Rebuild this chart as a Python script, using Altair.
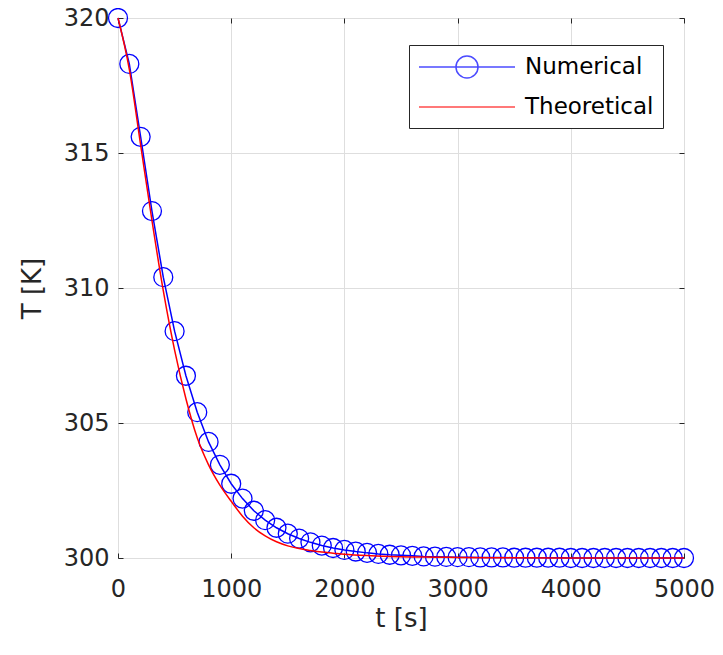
import altair as alt
import pandas as pd

# ---- data ----
num_t = list(range(0, 5001, 100))
num_T = [320.0, 318.3, 315.6, 312.85, 310.4, 308.4, 306.75, 305.4, 304.3, 303.45,
         302.75, 302.2, 301.75, 301.4, 301.12, 300.9, 300.72, 300.58, 300.46, 300.37,
         300.3, 300.24, 300.19, 300.15, 300.12, 300.1, 300.08, 300.06, 300.05, 300.04,
         300.03, 300.03, 300.02, 300.02, 300.02, 300.01, 300.01, 300.01, 300.01, 300.01,
         300.0, 300.0, 300.0, 300.0, 300.0, 300.0, 300.0, 300.0, 300.0, 300.0, 300.0]

theo_t = [0, 100, 200, 300, 400, 500, 600, 700, 800, 900, 1000, 1100, 1200, 1300,
          1400, 1500, 1600, 1700, 1800, 1900, 2000, 2200, 2400, 2600, 2800, 3000,
          3500, 4000, 5000]
theo_T = [320.0, 318.1, 315.3, 312.5, 309.9, 307.7, 305.9, 304.45, 303.45, 302.7,
          302.1, 301.55, 301.12, 300.82, 300.6, 300.45, 300.35, 300.28, 300.22, 300.18,
          300.14, 300.09, 300.06, 300.04, 300.03, 300.02, 300.01, 300.0, 300.0]

series_names = ["Numerical", "Theoretical"]
series_colors = ["#0000ff", "#ff0000"]
x_ticks = [0, 1000, 2000, 3000, 4000, 5000]
y_ticks = [300, 305, 310, 315, 320]

num_df = pd.DataFrame({"t": num_t, "T": num_T})
theo_df = pd.DataFrame({"t": theo_t, "T": theo_T})
leg_df = pd.DataFrame({"series": series_names})

FONT = "DejaVu Sans"
TXT = "#262626"
GRID = "#dedede"

xs = alt.Scale(domain=[0, 5000], nice=False, zero=False)
ys = alt.Scale(domain=[300, 320], nice=False, zero=False)

# axis with labels + grid
x_lab = alt.Axis(values=x_ticks, orient="bottom", domain=False, ticks=False, tickSize=0,
                 format="d", labelFlush=False, labelOverlap=False,
                 labelPadding=19, labelFontSize=24, labelFont=FONT, labelColor=TXT,
                 grid=True, gridColor=GRID, gridWidth=1, title="t [s]",
                 titleFont=FONT, titleFontSize=26, titleFontWeight="normal",
                 titleColor=TXT, titlePadding=4)
y_lab = alt.Axis(values=y_ticks, orient="left", domain=False, ticks=False, tickSize=0,
                 format="d", labelFlush=False, labelOverlap=False,
                 labelPadding=9, labelFontSize=24, labelFont=FONT, labelColor=TXT,
                 grid=True, gridColor=GRID, gridWidth=1, title="T [K]",
                 titleFont=FONT, titleFontSize=26, titleFontWeight="normal",
                 titleColor=TXT, titlePadding=18)


def tick_axis(orient, vals):
    return alt.Axis(values=vals, orient=orient, domain=False, labels=False, grid=False,
                    ticks=True, tickSize=5, tickColor=TXT, tickWidth=1, offset=-5,
                    title="")


num_line = alt.Chart(num_df).mark_line(color="#0000ff", strokeWidth=1.5, clip=False).encode(
    x=alt.X("t:Q", scale=xs, axis=x_lab),
    y=alt.Y("T:Q", scale=ys, axis=y_lab),
)

num_pts = alt.Chart(num_df).mark_point(shape="circle", filled=False, color="#0000ff",
                                       size=360, strokeWidth=1.3, opacity=1, clip=False).encode(
    x=alt.X("t:Q", scale=xs, axis=tick_axis("bottom", x_ticks)),
    y=alt.Y("T:Q", scale=ys, axis=tick_axis("left", y_ticks)),
)

theo_line = alt.Chart(theo_df).mark_line(color="#ff0000", strokeWidth=1.5,
                                         interpolate="monotone", clip=False).encode(
    x=alt.X("t:Q", scale=xs, axis=tick_axis("top", x_ticks)),
    y=alt.Y("T:Q", scale=ys, axis=tick_axis("right", y_ticks)),
)

# legend-only layer (no visible marks)
paths = [
    "M-4,0H4M0.92,0A0.92,0.92 0 1,0 -0.92,0A0.92,0.92 0 1,0 0.92,0",
    "M-4,0H4",
]
leg_common = dict(title=None, orient="none", legendX=291, legendY=27,
                  symbolSize=576, symbolStrokeWidth=1.5, symbolOffset=36,
                  labelOffset=45, labelFont=FONT, labelFontSize=23, labelColor="#000000",
                  labelLimit=400, rowPadding=12, padding=9,
                  strokeColor=TXT, fillColor="white", cornerRadius=0)
legend_layer = alt.Chart(leg_df).mark_point(filled=False, size=576).encode(
    color=alt.Color("series:N", scale=alt.Scale(domain=series_names, range=series_colors),
                    legend=alt.Legend(**leg_common)),
    shape=alt.Shape("series:N", scale=alt.Scale(domain=series_names, range=paths),
                    legend=alt.Legend(**leg_common)),
).transform_filter("datum.series == 'none'")

chart = alt.layer(num_line, num_pts, theo_line, legend_layer).resolve_axis(
    x="independent", y="independent"
).properties(
    width=566, height=540,
    autosize=alt.AutoSizeParams(type="none"),
    padding={"left": 110, "top": 10, "right": 31, "bottom": 80},
    background="white",
).configure_view(stroke=TXT, strokeWidth=1)

chart.save("out.html", embed_options={"renderer": "svg", "actions": False})
